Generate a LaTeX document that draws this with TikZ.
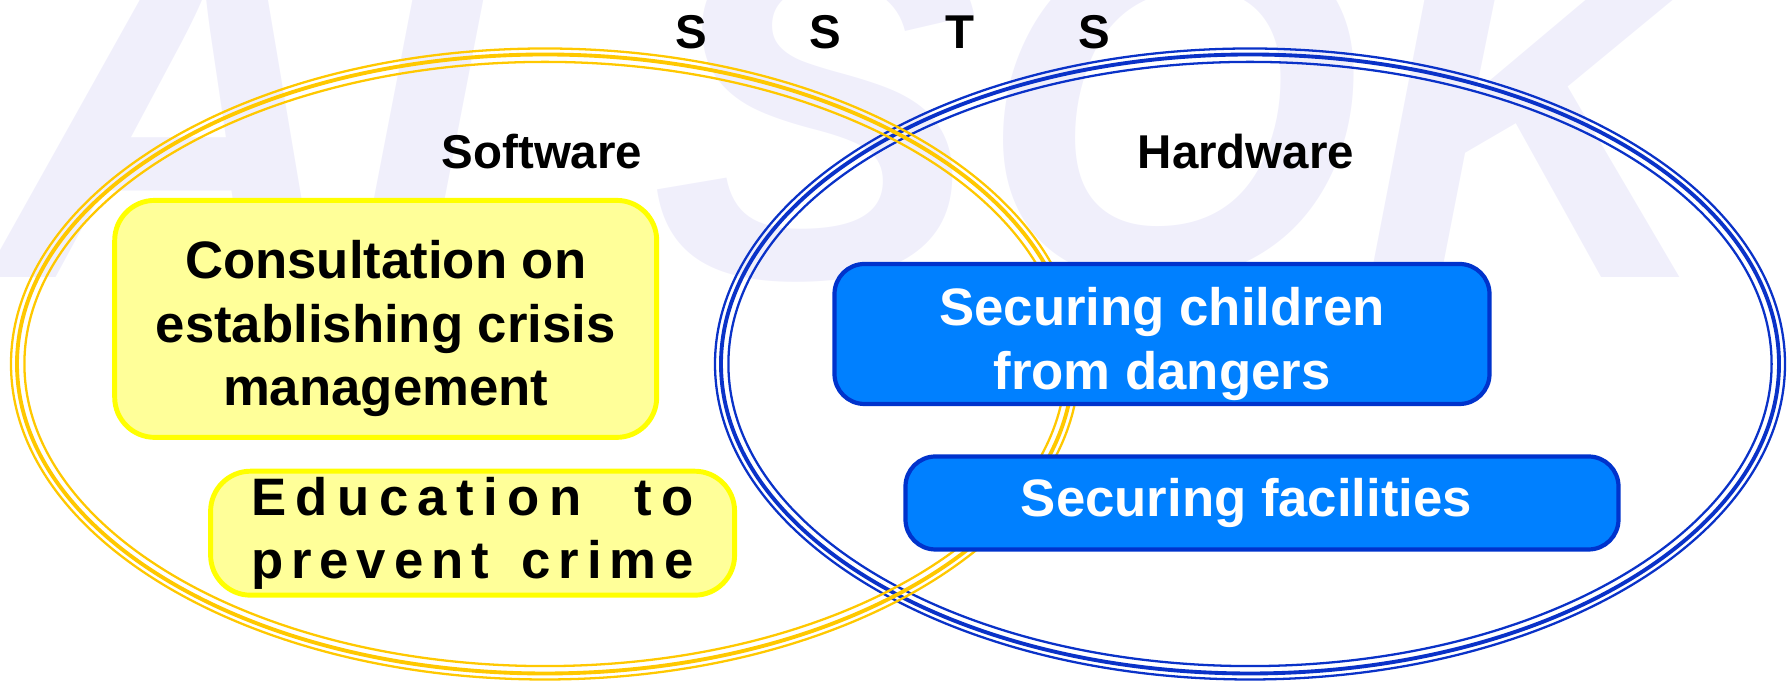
\documentclass[tikz,border=0pt]{standalone}
\usepackage{fontspec}
\setmainfont{Liberation Sans}
\usepackage{xcolor}
\usetikzlibrary{positioning}

\definecolor{ringgold}{RGB}{255,200,0}
\definecolor{ringblue}{RGB}{10,50,200}
\definecolor{softfill}{RGB}{255,255,153}
\definecolor{softedge}{RGB}{255,255,0}
\definecolor{hardfill}{RGB}{0,128,255}
\definecolor{hardedge}{RGB}{0,51,204}
\definecolor{logotint}{RGB}{240,239,251}

\newcommand{\spreadline}[2]{\makebox[126pt][s]{\addfontfeature{LetterSpace=#1}#2}}
\newcommand{\boxstrut}{\rule{0pt}{16.55pt}}

\tikzset{
  backlogo/.style={text=logotint, inner sep=0pt,
    font=\fontsize{140}{140}\selectfont\bfseries\itshape},
  sidehead/.style={inner sep=0pt, font=\fontsize{13.5}{16}\selectfont\bfseries},
  softbox/.style={draw=softedge, fill=softfill, line width=1.4pt,
    rounded corners=0.4cm, align=center, inner sep=0pt,
    font=\fontsize{15}{18.1}\selectfont\bfseries},
  hardbox/.style={draw=hardedge, fill=hardfill, line width=1.2pt,
    rounded corners=0.3cm, align=center, inner sep=0pt, text=white,
    font=\fontsize{15}{18.1}\selectfont\bfseries},
}

\begin{document}
\begin{tikzpicture}
\useasboundingbox (0,0) rectangle (17.92,6.82);
\clip (0,0) rectangle (17.92,6.82);
% faint company mark behind
\node[backlogo, anchor=base west] (logo) at (-0.05,4.04) {ALSOK};
% the two rings, three lines each
\foreach \d/\w in {0/0.65pt,0.06/1.1pt,0.134/0.65pt}
  \draw[ringblue, line width=\w] (12.50,3.18) ellipse [x radius={5.35-\d}, y radius={3.155-\d}];
\foreach \d/\w in {0/0.65pt,0.06/1.1pt,0.134/0.65pt}
  \draw[ringgold, line width=\w] (5.45,3.18) ellipse [x radius={5.34-\d}, y radius={3.155-\d}];
% heading letters
\foreach \ch [count=\i] in {S,S,T,S}
  \node[sidehead] (sst\i) at ({6.91+1.345*(\i-1)},6.50) {\ch};
\node[sidehead] (soft) at (5.42,5.30) {Software};
\node[sidehead] (hard) at (12.46,5.30) {Hardware};
% boxes
\node[softbox, minimum width=5.42cm, minimum height=2.37cm] (consult) at (3.857,3.631)
  {\boxstrut Consultation on\\establishing crisis\\management};
\node[softbox, minimum width=5.24cm, minimum height=1.24cm] (educ) at (4.726,1.488)
  {\spreadline{18}{Education to}\\\spreadline{15}{prevent crime}};
\node[hardbox, minimum width=6.55cm, minimum height=1.40cm] (children) at (11.62,3.48)
  {\boxstrut Securing children\\from dangers};
\node[hardbox, minimum width=7.13cm, minimum height=0.93cm] (facil) at (12.62,1.79)
  {Securing facilities\hspace*{0.31cm}};
\end{tikzpicture}
\end{document}
